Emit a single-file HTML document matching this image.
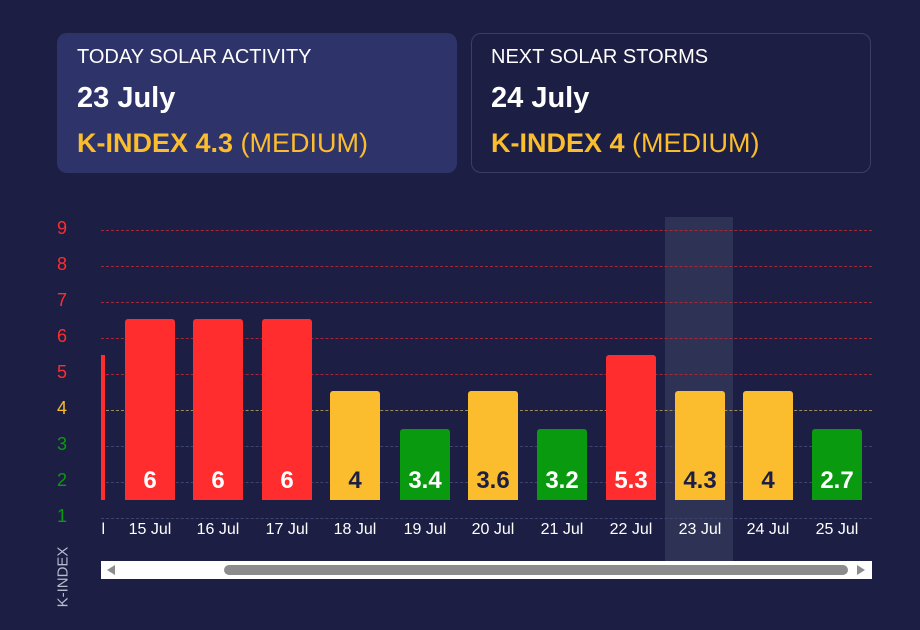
<!DOCTYPE html>
<html><head><style>
body{margin:0;width:920px;height:630px;background:#1c1f43;font-family:"Liberation Sans",sans-serif;position:relative;overflow:hidden;color:#fff}
.card{position:absolute;top:33px;width:400px;height:140px;border-radius:10px;box-sizing:border-box}
.t1{position:absolute;left:20px;top:13px;font-size:20px}
.t2{position:absolute;left:20px;top:49px;font-size:29px;font-weight:bold}
.t3{position:absolute;left:20px;top:95px;font-size:27px;color:#fbbd2d}
.t3 b{font-weight:bold}
.abs{position:absolute}
.g{position:absolute;left:101px;width:771px;height:0;border-top:1px dashed}
.yl{position:absolute;left:52px;width:20px;text-align:center;font-size:18px}
.bar{position:absolute;width:50px;bottom:130px;border-radius:3px 3px 0 0;text-align:center;font-weight:bold;font-size:24px}
.bar span{position:absolute;left:0;right:0;bottom:5px}
.xl{position:absolute;top:521px;width:70px;text-align:center;font-size:16px}
</style></head><body>
<div class="card" style="left:57px;background:#2e3469"><div class="t1">TODAY SOLAR ACTIVITY</div><div class="t2">23 July</div><div class="t3"><b>K-INDEX 4.3</b> (MEDIUM)</div></div>
<div class="card" style="left:471px;border:1px solid #3a3f66"><div class="t1" style="left:19px;top:12px">NEXT SOLAR STORMS</div><div class="t2" style="left:19px;top:48px">24 July</div><div class="t3" style="left:19px;top:94px"><b>K-INDEX 4</b> (MEDIUM)</div></div>
<div class="abs" style="left:665px;top:217px;width:68px;height:345px;background:#2e3254"></div>
<div class="g" style="top:230px;border-color:#a3283a"></div>
<div class="g" style="top:266px;border-color:#a3283a"></div>
<div class="g" style="top:302px;border-color:#a3283a"></div>
<div class="g" style="top:338px;border-color:#a3283a"></div>
<div class="g" style="top:374px;border-color:#a3283a"></div>
<div class="g" style="top:410px;border-color:#9d8a5e"></div>
<div class="g" style="top:446px;border-color:#3e4470"></div>
<div class="g" style="top:482px;border-color:#3e4470"></div>
<div class="g" style="top:518px;border-color:#3e4470"></div>
<div class="yl" style="top:218px;color:#ff2d2d">9</div>
<div class="yl" style="top:254px;color:#ff2d2d">8</div>
<div class="yl" style="top:290px;color:#ff2d2d">7</div>
<div class="yl" style="top:326px;color:#ff2d2d">6</div>
<div class="yl" style="top:362px;color:#ff2d2d">5</div>
<div class="yl" style="top:398px;color:#fbbd2d">4</div>
<div class="yl" style="top:434px;color:#0a9a10">3</div>
<div class="yl" style="top:470px;color:#0a9a10">2</div>
<div class="yl" style="top:506px;color:#0a9a10">1</div>
<div class="abs" style="left:101px;top:355px;width:4px;height:145px;background:#ff2d2d"></div>
<div class="bar" style="left:125px;height:181px;background:#ff2d2d"><span>6</span></div>
<div class="bar" style="left:193px;height:181px;background:#ff2d2d"><span>6</span></div>
<div class="bar" style="left:262px;height:181px;background:#ff2d2d"><span>6</span></div>
<div class="bar" style="left:330px;height:109px;background:#fbbd2d;color:#1c1f43"><span>4</span></div>
<div class="bar" style="left:400px;height:71px;background:#0a9a10"><span>3.4</span></div>
<div class="bar" style="left:468px;height:109px;background:#fbbd2d;color:#1c1f43"><span>3.6</span></div>
<div class="bar" style="left:537px;height:71px;background:#0a9a10"><span>3.2</span></div>
<div class="bar" style="left:606px;height:145px;background:#ff2d2d"><span>5.3</span></div>
<div class="bar" style="left:675px;height:109px;background:#fbbd2d;color:#1c1f43"><span>4.3</span></div>
<div class="bar" style="left:743px;height:109px;background:#fbbd2d;color:#1c1f43"><span>4</span></div>
<div class="bar" style="left:812px;height:71px;background:#0a9a10"><span>2.7</span></div>
<div class="abs" style="left:101px;top:521px;width:10px;height:22px;overflow:hidden"><div style="position:absolute;right:6px;top:0;font-size:16px;white-space:nowrap">14 Jul</div></div>
<div class="xl" style="left:115px">15 Jul</div>
<div class="xl" style="left:183px">16 Jul</div>
<div class="xl" style="left:252px">17 Jul</div>
<div class="xl" style="left:320px">18 Jul</div>
<div class="xl" style="left:390px">19 Jul</div>
<div class="xl" style="left:458px">20 Jul</div>
<div class="xl" style="left:527px">21 Jul</div>
<div class="xl" style="left:596px">22 Jul</div>
<div class="xl" style="left:665px">23 Jul</div>
<div class="xl" style="left:733px">24 Jul</div>
<div class="xl" style="left:802px">25 Jul</div>
<div class="abs" style="left:101px;top:561px;width:771px;height:18px;background:#fff"></div>
<div class="abs" style="left:224px;top:565px;width:624px;height:10px;border-radius:5px;background:#8c8c8c"></div>
<div class="abs" style="left:107px;top:565px;width:0;height:0;border-top:5px solid transparent;border-bottom:5px solid transparent;border-right:8px solid #8c8c8c"></div>
<div class="abs" style="left:857px;top:565px;width:0;height:0;border-top:5px solid transparent;border-bottom:5px solid transparent;border-left:8px solid #8c8c8c"></div>
<div class="abs" style="left:63px;top:577px;transform:translate(-50%,-50%) rotate(-90deg);font-size:15px;color:#b8bccf;white-space:nowrap">K-INDEX</div>
</body></html>
